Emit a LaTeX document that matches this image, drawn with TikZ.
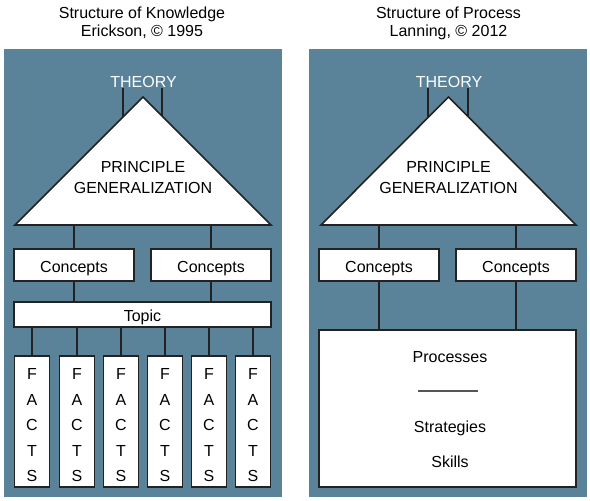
\documentclass[tikz,border=0pt]{standalone}
\usepackage{fontspec}
\setmainfont{Liberation Sans}
\definecolor{panel}{HTML}{5A8399}
\definecolor{edge}{HTML}{222222}
\definecolor{sep}{HTML}{555555}
\tikzset{
  panelbox/.style={fill=panel},
  lbl/.style={font=\fontsize{16}{18}\selectfont, inner sep=0pt, outer sep=0pt},
  wbox/.style={draw=edge, fill=white, line width=1.6pt, inner sep=0pt, outer sep=0pt,
               font=\fontsize{16}{18}\selectfont},
  factbox/.style={wbox, minimum width=35pt, minimum height=131pt},
  factlbl/.style={lbl, align=center, font=\fontsize{16}{25.5}\selectfont},
  conbox/.style={wbox, minimum width=120pt, minimum height=32pt, text height=15.5pt, text depth=0pt},
  conn/.style={draw=edge, line width=1.6pt},
  tri/.style={draw=edge, fill=white, line width=1.6pt, line join=miter},
}
\begin{document}
\begin{tikzpicture}[x=1pt,y=-1pt]
\useasboundingbox (0,0) rectangle (590,501);
% panels
\fill[panelbox] (4,49) rectangle (282,497);
\fill[panelbox] (309,49) rectangle (587,497);
% titles
\node[lbl, align=center] (titleL) at (142,23) {Structure of Knowledge\\Erickson, © 1995};
\node[lbl, align=center] (titleR) at (448.5,23) {Structure of Process\\Lanning, © 2012};

% ---------- left ----------
\node[lbl, text=white] (theoryL) at (143.5,81.5) {THEORY};
\coordinate (tlA) at (123,88); \coordinate (tlAe) at (123,117);
\coordinate (tlB) at (162,88); \coordinate (tlBe) at (162,116);
\draw[conn] (tlA) -- (tlAe);
\draw[conn] (tlB) -- (tlBe);
\coordinate (apexL) at (143,97);
\coordinate (blL) at (15,225);
\coordinate (brL) at (271,225);
\draw[tri] (apexL) -- (brL) -- (blL) -- cycle;
\node[lbl, align=center, font=\fontsize{16}{21}\selectfont] (princL) at (143,177) {PRINCIPLE\\GENERALIZATION};

\node[conbox] (conL1) at (74,265) {Concepts};
\node[conbox] (conL2) at (211,265) {Concepts};
\node[wbox, minimum width=257pt, minimum height=25pt, text height=13.5pt, text depth=0pt] (topic) at (142.5,314.5) {Topic};
\draw[conn] (conL1.north) -- (conL1.north |- blL);
\draw[conn] (conL2.north) -- (conL2.north |- blL);
\draw[conn] (conL1.south) -- (conL1.south |- topic.north);
\draw[conn] (conL2.south) -- (conL2.south |- topic.north);
\foreach \i/\x in {1/32,2/77,3/121,4/165,5/209,6/253}{
  \node[factbox] (f\i) at (\x,421.5) {};
  \node[factlbl, yshift=-4pt] (ft\i) at (f\i.center) {F\\A\\C\\T\\S};
  \draw[conn] (f\i.north) -- (f\i.north |- topic.south);
}

% ---------- right ----------
\node[lbl, text=white] (theoryR) at (449,81.5) {THEORY};
\coordinate (trA) at (428,88); \coordinate (trAe) at (428,117);
\coordinate (trB) at (468,88); \coordinate (trBe) at (468,117);
\draw[conn] (trA) -- (trAe);
\draw[conn] (trB) -- (trBe);
\coordinate (apexR) at (448.5,97);
\coordinate (blR) at (321,225);
\coordinate (brR) at (576,225);
\draw[tri] (apexR) -- (brR) -- (blR) -- cycle;
\node[lbl, align=center, font=\fontsize{16}{21}\selectfont] (princR) at (448.5,177) {PRINCIPLE\\GENERALIZATION};

\node[conbox] (conR1) at (379,265) {Concepts};
\node[conbox] (conR2) at (516,265) {Concepts};
\node[wbox, minimum width=257pt, minimum height=157pt] (proc) at (447.5,408.5) {};
\draw[conn] (conR1.north) -- (conR1.north |- blR);
\draw[conn] (conR2.north) -- (conR2.north |- blR);
\draw[conn] (conR1.south) -- (conR1.south |- proc.north);
\draw[conn] (conR2.south) -- (conR2.south |- proc.north);
\node[lbl, anchor=base] (processes) at (450,362) {Processes};
\coordinate (sepA) at (418,391); \coordinate (sepB) at (478,391);
\draw[draw=sep, line width=1.4pt] (sepA) -- (sepB);
\node[lbl, anchor=base] (strategies) at (450,432.5) {Strategies};
\node[lbl, anchor=base] (skills) at (450,467.5) {Skills};
\end{tikzpicture}
\end{document}
